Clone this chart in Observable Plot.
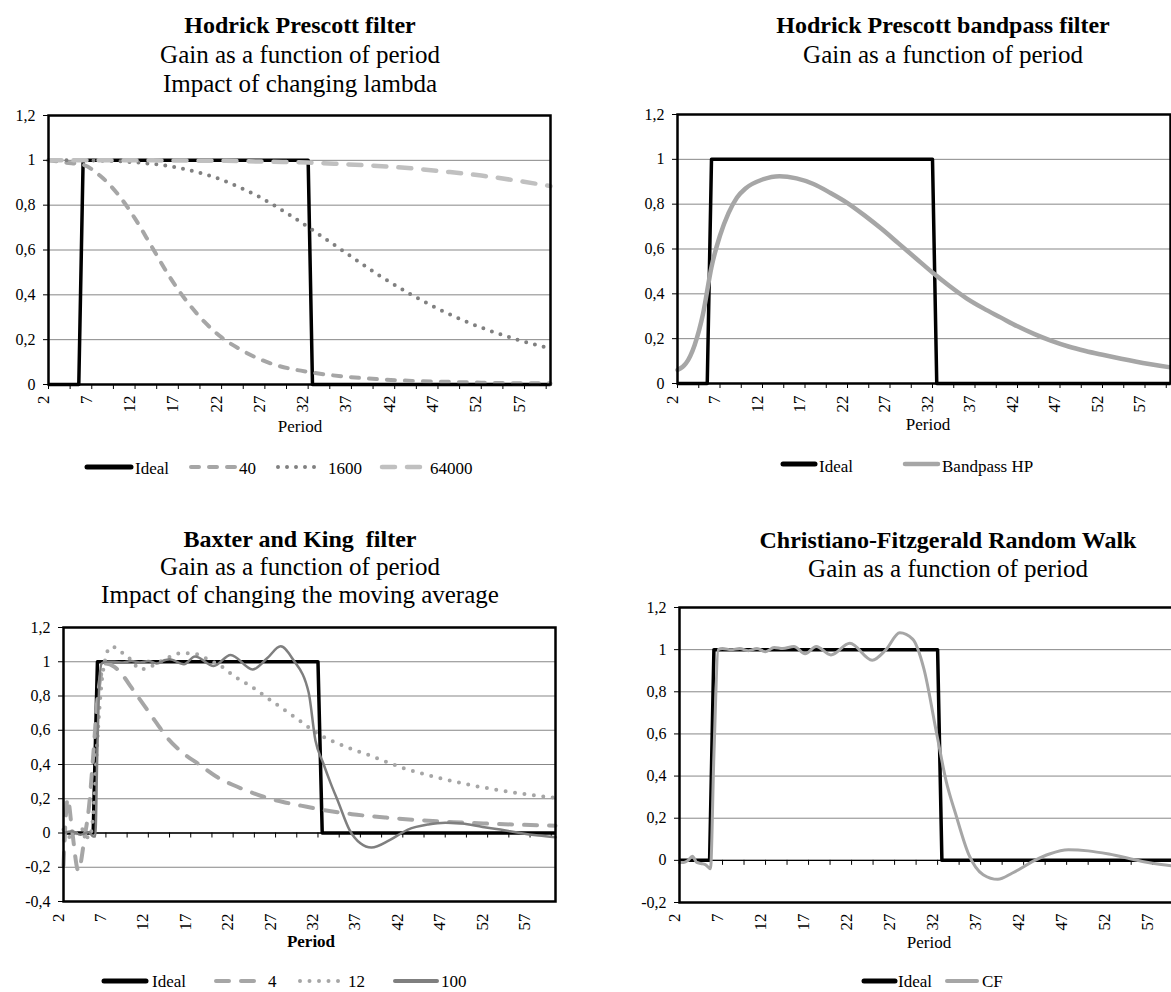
<!DOCTYPE html>
<html><head><meta charset="utf-8">
<script src="https://cdn.jsdelivr.net/npm/d3@7"></script>
<script src="https://cdn.jsdelivr.net/npm/@observablehq/plot@0.6"></script>
<style>
html,body{margin:0;padding:0;background:#fff;overflow:hidden;}
#root{position:relative;width:1171px;height:992px;overflow:hidden;background:#fff;font-family:"Liberation Serif","DejaVu Serif",serif;}
.panel{position:absolute;}
svg text{font-family:"Liberation Serif","DejaVu Serif",serif !important;}
</style></head><body><div id="root"></div>
<script>
// ---------- data ----------
const xLabels = [2, 7, 12, 17, 22, 27, 32, 37, 42, 47, 52, 57];
const xMinorTicks = [2, 4.5, 7, 9.5, 12, 14.5, 17, 19.5, 22, 24.5, 27, 29.5, 32, 34.5, 37, 39.5, 42, 44.5, 47, 49.5, 52, 54.5, 57, 59.5];
const yTicksHP = [0, 0.2, 0.4, 0.6, 0.8, 1, 1.2];
const yTicksBK = [-0.4, -0.2, 0, 0.2, 0.4, 0.6, 0.8, 1, 1.2];
const yTicksCF = [-0.2, 0, 0.2, 0.4, 0.6, 0.8, 1, 1.2];

const idealP = [2, 5.5, 6, 32, 32.5, 60];
const idealV = [0, 0, 1, 1, 0, 0];

// Hodrick Prescott, three lambdas
const hpP = [2, 4, 6, 8, 10, 12, 14, 16, 18, 20, 22, 24, 26, 28, 30, 32, 36, 40, 44, 48, 52, 56, 60];
const hp40 = [1.0, 0.99, 0.98, 0.93, 0.85, 0.74, 0.61, 0.48, 0.37, 0.28, 0.21, 0.16, 0.12, 0.09, 0.07, 0.056, 0.036, 0.024, 0.016, 0.012, 0.008, 0.006, 0.005];
const hp1600 = [1, 1, 1, 0.998, 0.996, 0.991, 0.984, 0.974, 0.959, 0.939, 0.913, 0.881, 0.844, 0.801, 0.753, 0.702, 0.597, 0.492, 0.399, 0.319, 0.254, 0.202, 0.161];
const hp64000 = [1, 1, 1, 1, 1, 1, 1, 0.999, 0.999, 0.998, 0.998, 0.997, 0.995, 0.994, 0.992, 0.99, 0.983, 0.975, 0.964, 0.949, 0.932, 0.91, 0.885];

// Bandpass HP
const bpP = [2, 3, 4, 5, 6, 7, 8, 9, 10, 12, 14, 16, 18, 20, 22, 24, 26, 28, 30, 32, 34, 36, 38, 40, 42, 44, 46, 48, 50, 52, 56, 60];
const bpV = [0.06, 0.09, 0.17, 0.31, 0.52, 0.66, 0.76, 0.83, 0.87, 0.91, 0.925, 0.915, 0.89, 0.85, 0.805, 0.75, 0.69, 0.625, 0.56, 0.495, 0.435, 0.38, 0.335, 0.295, 0.255, 0.22, 0.19, 0.165, 0.145, 0.128, 0.097, 0.072];

// Baxter and King
const bk4P = [2, 2.5, 3, 3.75, 4.5, 5, 5.5, 6, 6.5, 7, 8, 9, 10, 11, 12, 13, 14, 16, 18, 20, 22, 24, 26, 28, 30, 32, 36, 40, 44, 48, 52, 56, 60];
const bk4V = [-0.19, 0.2, 0.02, -0.22, -0.02, 0.15, 0.45, 0.78, 0.94, 0.99, 0.97, 0.92, 0.85, 0.78, 0.71, 0.64, 0.57, 0.47, 0.40, 0.33, 0.28, 0.24, 0.205, 0.18, 0.16, 0.14, 0.11, 0.09, 0.075, 0.063, 0.055, 0.048, 0.043];
const bk12P = [2, 3, 4, 5, 5.5, 6, 6.5, 7, 7.5, 8, 8.5, 9, 10, 11, 12, 13, 14, 15, 16, 17, 18, 19, 20, 21, 22, 24, 26, 28, 30, 32, 34, 36, 38, 42, 46, 50, 54, 60];
const bk12V = [0.02, -0.03, 0.03, -0.03, 0.1, 0.55, 0.88, 1.03, 1.085, 1.085, 1.07, 1.05, 1.01, 0.955, 0.965, 0.99, 1.015, 1.04, 1.05, 1.05, 1.04, 1.015, 0.99, 0.96, 0.92, 0.86, 0.79, 0.72, 0.65, 0.58, 0.53, 0.49, 0.455, 0.38, 0.325, 0.28, 0.245, 0.205];
const bk100P = [2, 3, 4, 5, 5.5, 5.75, 6, 6.25, 6.5, 7, 8, 9, 10, 11, 12, 13, 14, 14.5, 16.2, 17.5, 19.7, 21.7, 24.3, 26, 27.6, 29.1, 30.9, 31.7, 32.6, 33.5, 34.4, 35.7, 37, 38.3, 40.5, 42.6, 45, 47, 49, 51.4, 53.5, 55.8, 58, 60];
const bk100V = [0, 0.01, -0.01, 0.005, -0.02, -0.02, 0.5, 0.9, 0.99, 1.0, 1.0, 0.995, 1.005, 0.995, 1.005, 0.99, 1.01, 1.015, 0.985, 1.03, 0.975, 1.04, 0.955, 1.02, 1.09, 1.01, 0.82, 0.54, 0.41, 0.29, 0.18, 0.02, -0.06, -0.085, -0.04, 0.02, 0.05, 0.06, 0.055, 0.035, 0.02, 0.0, -0.015, -0.025];

// Christiano-Fitzgerald
const cfP = [2, 2.5, 3, 3.5, 3.7, 4, 4.5, 5, 5.6, 6, 6.5, 7, 8, 9, 10, 11, 12, 13, 14, 15.3, 16.6, 17.9, 19.6, 21.8, 24.4, 26, 27.6, 29.1, 30.4, 31.9, 33, 34.1, 35.6, 37.3, 39, 40.7, 43.3, 45, 47.2, 49.5, 51.9, 55.8, 58, 60];
const cfV = [-0.01, -0.01, 0.0, 0.02, 0.01, -0.01, -0.015, -0.02, -0.04, 0.5, 1.0, 1.005, 1.0, 1.005, 0.995, 1.005, 0.99, 1.01, 1.005, 1.015, 0.98, 1.015, 0.975, 1.03, 0.95, 1.0, 1.08, 1.05, 0.91, 0.6, 0.375, 0.22, 0.03, -0.068, -0.09, -0.06, 0.0, 0.03, 0.05, 0.045, 0.03, -0.005, -0.02, -0.03];

// ---------- helpers ----------
const FONT = '"Liberation Serif", "DejaVu Serif", serif';
const root = document.getElementById("root");
const rows = (P, V) => P.map((p, i) => ({p, v: V[i]}));
const fmt = d => String(Math.round(d * 10) / 10).replace(".", ",");

const STY = {
  ideal: {stroke: "#000", strokeWidth: 3.5, strokeLinecap: "butt", curve: "linear"},
  hp40: {stroke: "#a6a6a6", strokeWidth: 4, strokeDasharray: "8,10", strokeLinecap: "round"},
  hp1600: {stroke: "#808080", strokeWidth: 4, strokeDasharray: "0,9", strokeLinecap: "round"},
  hp64000: {stroke: "#c0c0c0", strokeWidth: 4.5, strokeDasharray: "13,12", strokeLinecap: "round"},
  bp: {stroke: "#a6a6a6", strokeWidth: 4.5, strokeLinecap: "round"},
  bk4: {stroke: "#a6a6a6", strokeWidth: 4, strokeDasharray: "13,12", strokeLinecap: "round"},
  bk12: {stroke: "#a6a6a6", strokeWidth: 4, strokeDasharray: "0,9.5", strokeLinecap: "round"},
  bk100: {stroke: "#7f7f7f", strokeWidth: 2.5, strokeLinecap: "round"},
  cf: {stroke: "#a6a6a6", strokeWidth: 3, strokeLinecap: "round"}
};

function makePanel(cfg) {
  const {left, top, width, height, mt, mr, mb, ml, yDomain, yTicks, series, labelDy} = cfg;
  const marks = [Plot.gridY(yTicks, {stroke: "#878787", strokeOpacity: 1, strokeWidth: 1})];
  if (yDomain[0] < 0) marks.push(Plot.ruleY([0], {stroke: "#000", strokeWidth: 1.3}));
  marks.push(Plot.ruleX(xMinorTicks, {x: d => d, y1: 0, y2: 0, insetBottom: -5, stroke: "#000", strokeWidth: 1}));
  for (const s of series) {
    const st = STY[s.style];
    marks.push(Plot.line(s.data, {
      x: "p", y: "v",
      stroke: st.stroke, strokeWidth: st.strokeWidth,
      strokeDasharray: st.strokeDasharray, strokeLinecap: st.strokeLinecap,
      strokeLinejoin: "round", curve: st.curve || "monotone-x"
    }));
  }
  marks.push(Plot.frame({stroke: "#000", strokeWidth: 2.5}));
  marks.push(Plot.axisY(yTicks, {tickSize: 5, tickPadding: 8, tickFormat: fmt, label: null, fontSize: 16, stroke: "#000"}));
  marks.push(Plot.text(xLabels, {x: d => d, frameAnchor: "bottom", text: d => String(d), rotate: -90, textAnchor: "end", dy: labelDy, fontSize: 17, fill: "#000"}));
  const svg = Plot.plot({
    width, height, marginTop: mt, marginRight: mr, marginBottom: mb, marginLeft: ml,
    x: {domain: [2, 60], axis: null, label: null},
    y: {domain: yDomain, axis: null, label: null},
    style: {fontFamily: FONT, fontSize: "16px", color: "#000", background: "transparent", overflow: "visible", maxWidth: "none"},
    marks
  });
  const div = document.createElement("div");
  div.className = "panel";
  div.style.left = left + "px";
  div.style.top = top + "px";
  div.style.width = width + "px";
  div.style.height = height + "px";
  div.append(svg);
  root.append(div);
}

// Panel 1: Hodrick Prescott
makePanel({left: 0, top: 100, width: 580, height: 330, mt: 15, mr: 30, mb: 46, ml: 48,
  yDomain: [0, 1.2], yTicks: yTicksHP, labelDy: 11,
  series: [
    {data: rows(idealP, idealV), style: "ideal"},
    {data: rows(hpP, hp40), style: "hp40"},
    {data: rows(hpP, hp1600), style: "hp1600"},
    {data: rows(hpP, hp64000), style: "hp64000"}
  ]});
// Panel 2: Bandpass HP
makePanel({left: 590, top: 100, width: 581, height: 330, mt: 14, mr: 1, mb: 47, ml: 87,
  yDomain: [0, 1.2], yTicks: yTicksHP, labelDy: 12,
  series: [
    {data: rows(idealP, idealV), style: "ideal"},
    {data: rows(bpP, bpV), style: "bp"}
  ]});
// Panel 3: Baxter and King
makePanel({left: 0, top: 600, width: 580, height: 330, mt: 27, mr: 25, mb: 29, ml: 63,
  yDomain: [-0.4, 1.2], yTicks: yTicksBK, labelDy: 12,
  series: [
    {data: rows(idealP, idealV), style: "ideal"},
    {data: rows(bk4P, bk4V), style: "bk4"},
    {data: rows(bk12P, bk12V), style: "bk12"},
    {data: rows(bk100P, bk100V), style: "bk100"}
  ]});
// Panel 4: Christiano-Fitzgerald
makePanel({left: 590, top: 600, width: 600, height: 320, mt: 7, mr: 12, mb: 18, ml: 89,
  yDomain: [-0.2, 1.2], yTicks: yTicksCF, labelDy: 11,
  series: [
    {data: rows(idealP, idealV), style: "ideal"},
    {data: rows(cfP, cfV), style: "cf"}
  ]});

// ---------- overlay: titles, axis titles, legends ----------
const ov = d3.select(root).append("svg")
  .attr("width", 1171).attr("height", 992)
  .attr("font-family", FONT)
  .style("position", "absolute").style("left", 0).style("top", 0)
  .style("pointer-events", "none");

function txt(x, y, s, size, weight, anchor) {
  ov.append("text").attr("x", x).attr("y", y)
    .attr("font-size", size).attr("font-weight", weight || "normal")
    .attr("text-anchor", anchor || "middle").attr("fill", "#000").text(s);
}
function legend(yLine, yText, items) {
  for (const it of items) {
    const st = STY[it.style];
    ov.append("line").attr("x1", it.x1).attr("x2", it.x2).attr("y1", yLine).attr("y2", yLine)
      .attr("stroke", st.stroke)
      .attr("stroke-width", it.style === "ideal" ? 5 : Math.max(st.strokeWidth, 4))
      .attr("stroke-dasharray", st.strokeDasharray || null)
      .attr("stroke-linecap", "round");
    txt(it.tx, yText, it.label, 17, "normal", "start");
  }
}

txt(300, 33, "Hodrick Prescott filter", 24, "bold");
txt(300, 63, "Gain as a function of period", 25);
txt(300, 92, "Impact of changing lambda", 25);
txt(300, 432, "Period", 17);
legend(467, 474, [
  {x1: 87, x2: 131, tx: 135, label: "Ideal", style: "ideal"},
  {x1: 191, x2: 236, tx: 239, label: "40", style: "hp40"},
  {x1: 278, x2: 320, tx: 328, label: "1600", style: "hp1600"},
  {x1: 382, x2: 426, tx: 430, label: "64000", style: "hp64000"}
]);

txt(943, 33, "Hodrick Prescott bandpass filter", 24, "bold");
txt(943, 63, "Gain as a function of period", 25);
txt(928, 430, "Period", 17);
legend(464, 472, [
  {x1: 783, x2: 815, tx: 819, label: "Ideal", style: "ideal"},
  {x1: 905, x2: 938, tx: 942, label: "Bandpass HP", style: "bp"}
]);

txt(300, 547, "Baxter and King\u00a0 filter", 24, "bold");
txt(300, 575, "Gain as a function of period", 25);
txt(300, 603, "Impact of changing the moving average", 25);
txt(311, 947, "Period", 17, "bold");
legend(981, 987, [
  {x1: 104, x2: 146, tx: 152, label: "Ideal", style: "ideal"},
  {x1: 216, x2: 265, tx: 268, label: "4", style: "bk4"},
  {x1: 300, x2: 342, tx: 348, label: "12", style: "bk12"},
  {x1: 395, x2: 437, tx: 441, label: "100", style: "bk100"}
]);

txt(948, 548, "Christiano-Fitzgerald Random Walk", 24, "bold");
txt(948, 577, "Gain as a function of period", 25);
txt(929, 948, "Period", 17);
legend(981, 987, [
  {x1: 864, x2: 895, tx: 898, label: "Ideal", style: "ideal"},
  {x1: 947, x2: 977, tx: 982, label: "CF", style: "cf"}
]);
</script></body></html>
